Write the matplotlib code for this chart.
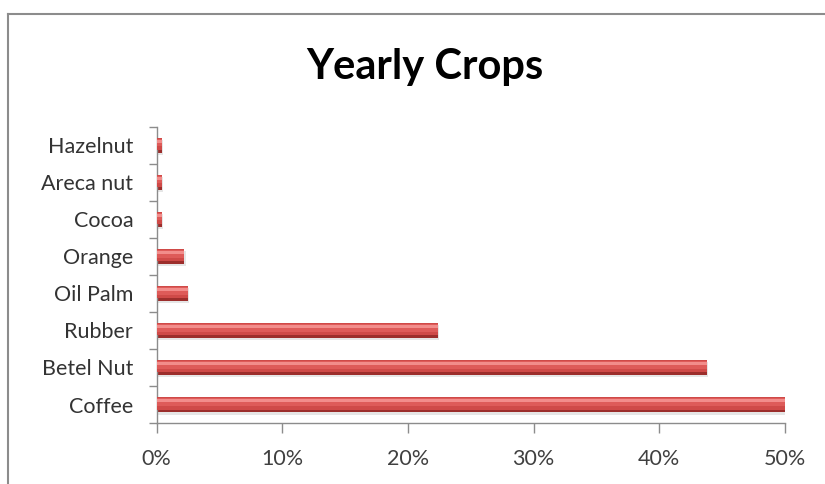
import matplotlib.pyplot as plt
import numpy as np
from matplotlib.lines import Line2D
from matplotlib.ticker import FixedLocator, PercentFormatter

crops = ['Coffee', 'Betel Nut', 'Rubber', 'Oil Palm', 'Orange', 'Cocoa', 'Areca nut', 'Hazelnut']
shares = [50.0, 43.8, 22.4, 2.5, 2.2, 0.4, 0.4, 0.4]
x_ticks = [0, 10, 20, 30, 40, 50]

plt.rcParams['font.family'] = ['Lato', 'DejaVu Sans']

fig = plt.figure(figsize=(8.25, 4.84), dpi=100)
ax = fig.add_axes([0.190, 0.126, 0.7615, 0.612])

y = np.arange(len(crops))
# shadow, base and highlight to mimic the bevelled excel bars
ax.barh(y - 0.06, shares, left=0.1, height=0.42, color='#c8c8c8', alpha=0.45, zorder=1)
ax.barh(y, shares, height=0.41, color='#9c2e2c', zorder=2)
ax.barh(y + 0.03, shares, height=0.33, color='#cf4a48', zorder=3)
ax.barh(y + 0.07, shares, height=0.20, color='#de5b59', zorder=4)
ax.barh(y + 0.10, shares, height=0.08, color='#f28d8b', zorder=5)

ax.set_xlim(0, 50)
ax.set_ylim(-0.5, len(crops) - 0.5)
ax.set_xticks(x_ticks)
ax.xaxis.set_major_formatter(PercentFormatter(decimals=0))
ax.set_yticks(y)
ax.set_yticklabels(crops)
ax.yaxis.set_minor_locator(FixedLocator(np.arange(-0.5, len(crops), 1.0)))

ax.tick_params(axis='y', which='major', length=0, pad=17, labelsize=15.5, labelcolor='#333333')
ax.tick_params(axis='y', which='minor', length=6, color='#8c8c8c', width=1)
ax.tick_params(axis='x', length=7, color='#8c8c8c', width=1, labelsize=15.5,
               labelcolor='#404040', pad=12)

for side in ['top', 'right']:
    ax.spines[side].set_visible(False)
for side in ['left', 'bottom']:
    ax.spines[side].set_color('#8c8c8c')
    ax.spines[side].set_linewidth(1)

fig.text(0.515, 0.862, 'Yearly Crops', ha='center', va='center',
         fontsize=30, fontweight='bold', color='black')

# chart area frame (extends past the right and bottom image edges)
fx = 8 / 825
fy = 1 - 14 / 484
fig.add_artist(Line2D([fx, fx], [0, fy], transform=fig.transFigure, color='#8c8c8c', lw=1.5))
fig.add_artist(Line2D([fx, 1], [fy, fy], transform=fig.transFigure, color='#8c8c8c', lw=1.5))

fig.savefig('out.png', dpi=100)
